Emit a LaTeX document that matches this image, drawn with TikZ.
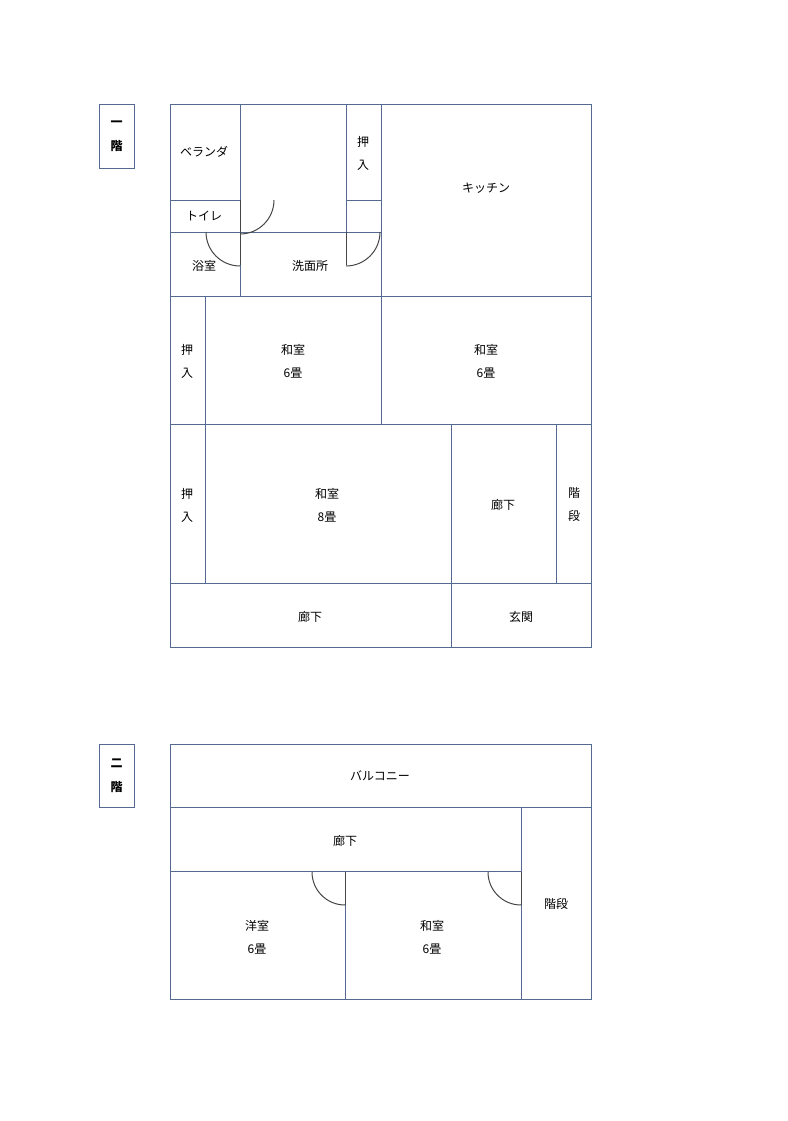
\documentclass[tikz,border=0pt]{standalone}
\usepackage{fontspec}
\setmainfont{Noto Sans CJK JP}
\begin{document}
\begin{tikzpicture}[x=1pt,y=-1pt,
  wall/.style={draw=wallc,line width=0.9pt},
  door/.style={draw=doorc,line width=1pt},
  lbl/.style={font=\fontsize{12}{16}\selectfont,inner sep=0pt,align=center},
  vlbl/.style={font=\fontsize{12}{23}\selectfont,inner sep=0pt,align=center},
  tag/.style={font=\fontsize{12}{24}\selectfont\bfseries,align=center}]
\definecolor{wallc}{RGB}{85,105,145}
\definecolor{doorc}{RGB}{70,70,70}
\useasboundingbox (0,0) rectangle (787,1121);
% floor 1
\draw[wall] (99,104) rectangle (134,168);
\node[tag] (t1) at (116.5,136) {一\\階};
\draw[wall] (170,104) rectangle (591,647);
\draw[wall] (240,104) -- (240,296);
\draw[wall] (170,200) -- (240,200);
\draw[wall] (170,232) -- (381,232);
\draw[wall] (346,104) -- (346,232);
\draw[wall] (346,200) -- (381,200);
\draw[wall] (381,104) -- (381,424);
\draw[wall] (170,296) -- (591,296);
\draw[wall] (170,424) -- (591,424);
\draw[wall] (205,296) -- (205,583);
\draw[wall] (170,583) -- (591,583);
\draw[wall] (451,424) -- (451,647);
\draw[wall] (556,424) -- (556,583);
% doors
\draw[door] (240,200) -- (240,232);
\draw[door] (274,200) arc[start angle=0,end angle=90,radius=34];
\draw[door] (240,232) -- (240,265);
\draw[door] (206,232) arc[start angle=180,end angle=90,radius=34];
\draw[door] (346,232) -- (346,265);
\draw[door] (380,232) arc[start angle=0,end angle=90,radius=34];
\node[lbl] (n1) at (204,152) {ベランダ};
\node[lbl] (n2) at (204,216) {トイレ};
\node[lbl] (n3) at (204,266) {浴室};
\node[lbl] (n4) at (310,266) {洗面所};
\node[vlbl] (n5) at (363,153) {押\\入};
\node[lbl] (n6) at (486,188) {キッチン};
\node[vlbl] (n7) at (187,361) {押\\入};
\node[vlbl] (n8) at (293,361) {和室\\6畳};
\node[vlbl] (n9) at (486,361) {和室\\6畳};
\node[vlbl] (n10) at (187,505) {押\\入};
\node[vlbl] (n11) at (327,505) {和室\\8畳};
\node[lbl] (n12) at (503,505) {廊下};
\node[vlbl] (n13) at (574,505) {階\\段};
\node[lbl] (n14) at (310,617) {廊下};
\node[lbl] (n15) at (521,617) {玄関};
% floor 2
\draw[wall] (99,744) rectangle (134,807);
\node[tag] (t2) at (116.5,775.5) {二\\階};
\draw[wall] (170,744) rectangle (591,999);
\draw[wall] (170,807) -- (591,807);
\draw[wall] (170,871) -- (521,871);
\draw[wall] (521,807) -- (521,999);
\draw[wall] (345,871) -- (345,999);
\draw[door] (345,872) -- (345,905);
\draw[door] (345,905) arc[start angle=90,end angle=180,radius=33];
\draw[door] (521,872) -- (521,905);
\draw[door] (521,905) arc[start angle=90,end angle=180,radius=33];
\node[lbl] (m1) at (380,776) {バルコニー};
\node[lbl] (m2) at (345,841) {廊下};
\node[vlbl] (m3) at (257,937) {洋室\\6畳};
\node[vlbl] (m4) at (432,937) {和室\\6畳};
\node[lbl] (m5) at (556,904) {階段};
\end{tikzpicture}
\end{document}
